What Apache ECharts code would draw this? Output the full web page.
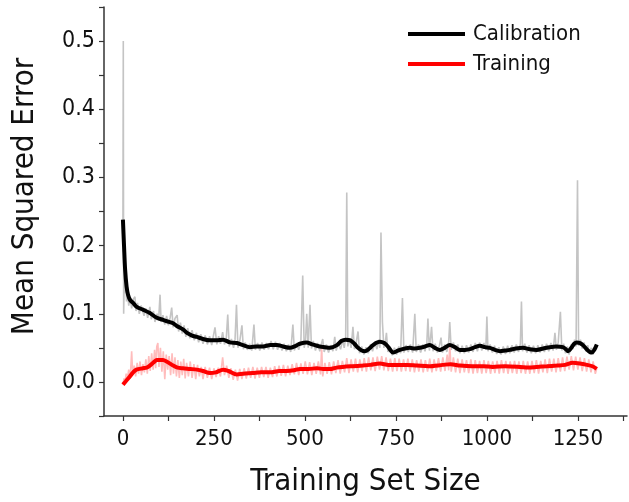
<!DOCTYPE html>
<html>
<head>
<meta charset="utf-8">
<script src="https://cdn.jsdelivr.net/npm/echarts@6/dist/echarts.min.js"></script>
<style>
  html, body { margin: 0; padding: 0; background: #fff; }
  #chart { width: 629px; height: 502px; }
</style>
</head>
<body>
<div id="chart"></div>
<script>
// axis ticks / labels
const xTicks = [0, 125, 250, 375, 500, 625, 750, 875, 1000, 1125, 1250, 1375];
const xLabels = [0, 250, 500, 750, 1000, 1250];
const yTicks = [-0.05, 0, 0.05, 0.1, 0.15, 0.2, 0.25, 0.3, 0.35, 0.4, 0.45, 0.5, 0.55];
const yLabels = [0, 0.1, 0.2, 0.3, 0.4, 0.5];

// smoothed calibration error (black)
const calSmooth = [[0,0.238],[3,0.2],[6,0.165],[10,0.14],[14,0.128],[20,0.12],[28,0.116],[38,0.11],[55,0.106],[74,0.101],[93,0.094],[110,0.091],[121,0.089],[138,0.086],[148,0.082],[165,0.077],[176,0.072],[190,0.068],[203,0.066],[220,0.063],[239,0.061],[258,0.061],[275,0.062],[294,0.058],[313,0.057],[330,0.054],[349,0.051],[367,0.052],[385,0.052],[405,0.054],[423,0.054],[440,0.052],[459,0.05],[475,0.053],[486,0.056],[505,0.058],[520,0.055],[533,0.053],[541,0.052],[555,0.051],[569,0.05],[588,0.054],[600,0.06],[612,0.062],[625,0.061],[636,0.056],[646,0.05],[656,0.046],[665,0.045],[675,0.048],[683,0.052],[695,0.057],[706,0.059],[718,0.057],[728,0.052],[736,0.046],[742,0.043],[752,0.045],[761,0.047],[775,0.049],[788,0.05],[802,0.049],[816,0.05],[830,0.052],[843,0.054],[857,0.05],[871,0.047],[884,0.05],[898,0.054],[912,0.051],[926,0.047],[940,0.047],[953,0.048],[967,0.051],[981,0.053],[995,0.051],[1008,0.05],[1022,0.047],[1036,0.045],[1050,0.046],[1063,0.047],[1080,0.049],[1099,0.05],[1118,0.048],[1137,0.047],[1155,0.049],[1173,0.051],[1190,0.052],[1209,0.051],[1217,0.048],[1223,0.045],[1232,0.05],[1240,0.056],[1247,0.058],[1256,0.057],[1264,0.054],[1276,0.047],[1288,0.043],[1295,0.047],[1302,0.055]];

// smoothed training error (red)
const trainSmooth = [[0,-0.004],[8,0.001],[19,0.008],[28,0.014],[37,0.018],[55,0.02],[65,0.021],[74,0.024],[85,0.029],[93,0.032],[110,0.032],[120,0.03],[138,0.024],[150,0.021],[165,0.02],[185,0.019],[203,0.018],[220,0.016],[239,0.013],[255,0.014],[275,0.018],[290,0.016],[313,0.011],[330,0.012],[357,0.013],[380,0.014],[404,0.014],[430,0.016],[450,0.016],[470,0.017],[486,0.019],[510,0.019],[533,0.02],[550,0.019],[569,0.019],[587,0.021],[604,0.022],[630,0.023],[659,0.024],[680,0.025],[706,0.027],[730,0.025],[753,0.025],[780,0.025],[808,0.024],[840,0.023],[879,0.025],[900,0.026],[926,0.024],[960,0.023],[990,0.023],[1016,0.022],[1050,0.023],[1091,0.022],[1115,0.021],[1137,0.022],[1165,0.023],[1192,0.024],[1215,0.025],[1236,0.028],[1255,0.027],[1275,0.025],[1290,0.023],[1302,0.019]];

// raw calibration error (grey)
const calRaw = [[0,0.235],[1,0.5],[2,0.1],[4,0.16],[6,0.13],[8,0.145],[10,0.118],[13,0.13],[16,0.112],[20,0.124],[24,0.108],[28,0.121],[33,0.125],[36,0.104],[40,0.116],[45,0.1],[50,0.112],[55,0.113],[58,0.097],[63,0.108],[68,0.094],[74,0.11],[78,0.092],[84,0.104],[88,0.088],[94,0.1],[98,0.09],[102,0.128],[105,0.088],[110,0.098],[115,0.084],[120,0.097],[125,0.083],[130,0.095],[134,0.109],[138,0.08],[143,0.093],[149,0.098],[153,0.074],[158,0.087],[163,0.071],[168,0.083],[173,0.066],[178,0.079],[184,0.064],[190,0.076],[196,0.061],[202,0.072],[208,0.058],[214,0.07],[220,0.056],[226,0.068],[232,0.055],[238,0.067],[244,0.054],[248,0.066],[253,0.08],[258,0.055],[263,0.067],[268,0.056],[274,0.073],[279,0.055],[284,0.064],[288,0.099],[292,0.052],[298,0.063],[304,0.05],[308,0.062],[312,0.113],[316,0.05],[321,0.06],[327,0.083],[331,0.048],[336,0.058],[342,0.047],[348,0.056],[354,0.046],[360,0.084],[364,0.047],[370,0.057],[376,0.046],[382,0.058],[388,0.047],[394,0.057],[400,0.048],[407,0.06],[413,0.048],[419,0.059],[425,0.047],[431,0.057],[437,0.046],[443,0.056],[449,0.045],[455,0.055],[461,0.044],[467,0.084],[471,0.046],[477,0.057],[483,0.047],[489,0.06],[494,0.156],[498,0.05],[502,0.063],[505,0.1],[509,0.05],[514,0.113],[518,0.049],[523,0.06],[529,0.046],[535,0.057],[541,0.045],[545,0.055],[549,0.063],[553,0.044],[559,0.055],[565,0.043],[571,0.054],[577,0.045],[582,0.066],[586,0.046],[592,0.057],[598,0.048],[604,0.062],[608,0.05],[612,0.065],[615,0.278],[618,0.052],[622,0.064],[627,0.05],[632,0.081],[636,0.048],[641,0.058],[646,0.074],[650,0.042],[656,0.052],[662,0.04],[668,0.051],[674,0.042],[680,0.055],[686,0.045],[692,0.058],[698,0.048],[703,0.062],[706,0.05],[709,0.219],[713,0.088],[717,0.05],[721,0.058],[724,0.072],[728,0.044],[734,0.052],[740,0.039],[746,0.05],[752,0.04],[758,0.052],[763,0.042],[768,0.123],[772,0.043],[778,0.054],[784,0.044],[790,0.055],[796,0.043],[802,0.1],[806,0.044],[812,0.055],[818,0.043],[824,0.055],[830,0.045],[835,0.057],[838,0.093],[842,0.046],[848,0.081],[852,0.045],[858,0.056],[864,0.043],[870,0.054],[874,0.065],[878,0.043],[884,0.055],[890,0.044],[895,0.058],[898,0.088],[902,0.047],[908,0.058],[914,0.045],[920,0.055],[926,0.042],[932,0.053],[938,0.042],[944,0.054],[950,0.043],[956,0.055],[962,0.044],[968,0.057],[974,0.045],[980,0.058],[986,0.046],[992,0.057],[997,0.047],[1000,0.096],[1003,0.045],[1009,0.055],[1015,0.043],[1021,0.053],[1027,0.041],[1033,0.051],[1039,0.04],[1045,0.052],[1051,0.041],[1057,0.053],[1063,0.042],[1069,0.054],[1075,0.043],[1081,0.055],[1087,0.044],[1092,0.056],[1095,0.118],[1098,0.045],[1104,0.056],[1110,0.043],[1116,0.054],[1122,0.042],[1128,0.053],[1134,0.042],[1140,0.054],[1146,0.043],[1152,0.055],[1158,0.044],[1164,0.056],[1170,0.045],[1176,0.057],[1182,0.046],[1187,0.072],[1191,0.047],[1196,0.058],[1202,0.103],[1206,0.046],[1211,0.056],[1216,0.042],[1221,0.052],[1226,0.04],[1231,0.055],[1236,0.048],[1241,0.062],[1245,0.052],[1249,0.296],[1252,0.053],[1257,0.062],[1262,0.049],[1267,0.058],[1272,0.045],[1277,0.054],[1282,0.041],[1287,0.05],[1292,0.04],[1297,0.052],[1302,0.05]];

// raw training error (pink)
const trainRaw = [[0,-0.004],[3,0.005],[6,0.002],[9,0.012],[12,0.004],[16,0.018],[20,0.005],[24,0.045],[27,0.01],[31,0.024],[35,0.008],[39,0.028],[43,0.012],[47,0.03],[51,0.01],[55,0.026],[59,0.014],[63,0.033],[67,0.012],[71,0.038],[75,0.016],[79,0.042],[83,0.018],[87,0.047],[90,0.02],[93,0.052],[96,0.057],[99,0.022],[103,0.05],[107,0.015],[111,0.045],[115,0.004],[119,0.04],[123,0.018],[127,0.038],[131,0.01],[135,0.042],[139,0.012],[143,0.036],[147,0.008],[151,0.032],[155,0.006],[159,0.03],[163,0.01],[167,0.034],[171,0.005],[175,0.028],[180,0.008],[185,0.03],[190,0.006],[195,0.026],[200,0.004],[205,0.025],[210,0.008],[215,0.022],[220,0.004],[226,0.022],[232,0.006],[238,0.021],[244,0.004],[250,0.02],[256,0.007],[262,0.021],[268,0.008],[274,0.036],[279,0.01],[285,0.024],[291,0.006],[297,0.02],[303,0.003],[309,0.018],[315,0.002],[321,0.019],[327,0.004],[333,0.02],[339,0.005],[345,0.021],[351,0.006],[357,0.022],[363,0.005],[369,0.021],[375,0.006],[381,0.022],[387,0.007],[393,0.022],[399,0.006],[405,0.021],[411,0.007],[417,0.023],[423,0.008],[429,0.024],[435,0.009],[441,0.025],[447,0.008],[453,0.024],[459,0.01],[465,0.026],[471,0.011],[477,0.028],[483,0.01],[489,0.027],[495,0.012],[501,0.03],[507,0.011],[513,0.029],[519,0.01],[525,0.028],[531,0.012],[537,0.03],[543,0.011],[546,0.052],[549,0.008],[555,0.028],[561,0.012],[567,0.029],[573,0.011],[579,0.03],[585,0.013],[591,0.032],[597,0.012],[603,0.031],[609,0.014],[615,0.035],[621,0.013],[627,0.033],[633,0.015],[639,0.034],[645,0.014],[651,0.033],[657,0.016],[663,0.035],[669,0.015],[675,0.036],[681,0.017],[687,0.036],[693,0.016],[699,0.037],[705,0.018],[711,0.038],[717,0.017],[723,0.036],[729,0.016],[735,0.034],[741,0.015],[747,0.035],[753,0.016],[759,0.034],[765,0.015],[771,0.033],[777,0.016],[783,0.034],[789,0.015],[795,0.033],[801,0.014],[807,0.032],[813,0.015],[819,0.033],[825,0.014],[831,0.032],[837,0.015],[843,0.034],[849,0.014],[855,0.033],[861,0.016],[867,0.035],[873,0.015],[879,0.036],[885,0.016],[891,0.04],[895,0.017],[898,0.055],[902,0.015],[908,0.036],[914,0.014],[920,0.034],[926,0.013],[932,0.033],[938,0.014],[944,0.032],[950,0.013],[956,0.033],[962,0.012],[968,0.032],[974,0.013],[980,0.031],[986,0.012],[992,0.032],[998,0.013],[1004,0.031],[1010,0.012],[1016,0.03],[1022,0.013],[1028,0.031],[1034,0.012],[1040,0.032],[1046,0.013],[1052,0.031],[1058,0.012],[1064,0.03],[1070,0.013],[1076,0.031],[1082,0.012],[1088,0.03],[1094,0.013],[1100,0.031],[1106,0.012],[1112,0.03],[1118,0.012],[1124,0.031],[1130,0.013],[1136,0.032],[1142,0.012],[1148,0.031],[1154,0.014],[1160,0.033],[1166,0.013],[1172,0.034],[1178,0.015],[1184,0.034],[1190,0.014],[1196,0.035],[1202,0.015],[1208,0.036],[1214,0.016],[1220,0.037],[1226,0.018],[1232,0.038],[1238,0.017],[1244,0.037],[1250,0.018],[1256,0.036],[1262,0.016],[1268,0.035],[1274,0.015],[1280,0.033],[1286,0.014],[1292,0.03],[1298,0.012],[1302,0.02]];

const FONT = "'DejaVu Sans Condensed', 'DejaVu Sans', sans-serif";
const AXIS_COLOR = "#333";

const chart = echarts.init(document.getElementById("chart"));

const option = {
  animation: false,
  backgroundColor: "#fff",
  textStyle: { fontFamily: FONT },
  grid: { left: 104, right: 2, top: 7, bottom: 86, containLabel: false },
  legend: {
    data: ["Calibration", "Training"],
    orient: "vertical",
    left: 408,
    top: 23,
    padding: 0,
    itemGap: 8,
    itemWidth: 57,
    itemHeight: 4,
    icon: "rect",
    textStyle: { fontFamily: FONT, fontSize: 22, color: "#111", padding: [0, 0, 0, 3] }
  },
  xAxis: {
    type: "value",
    min: -52,
    max: 1385,
    name: "Training Set Size",
    nameLocation: "middle",
    nameGap: 50,
    nameTextStyle: { fontFamily: FONT, fontSize: 31, color: "#111" },
    splitLine: { show: false },
    axisLine: { show: true, onZero: false, lineStyle: { color: AXIS_COLOR, width: 1.5 } },
    axisTick: { show: true, length: 5, customValues: xTicks, lineStyle: { color: AXIS_COLOR, width: 1.2 } },
    axisLabel: {
      customValues: xLabels,
      margin: 12,
      fontFamily: FONT,
      fontSize: 22,
      color: "#111",
      formatter: v => String(v)
    }
  },
  yAxis: {
    type: "value",
    min: -0.05,
    max: 0.55,
    name: "Mean Squared Error",
    nameLocation: "middle",
    nameGap: 64,
    nameTextStyle: { fontFamily: FONT, fontSize: 31, color: "#111", padding: [0, 0, 0, 30] },
    splitLine: { show: false },
    axisLine: { show: true, onZero: false, lineStyle: { color: AXIS_COLOR, width: 1.5 } },
    axisTick: { show: true, length: 5, customValues: yTicks, lineStyle: { color: AXIS_COLOR, width: 1.2 } },
    axisLabel: {
      customValues: yLabels,
      margin: 9,
      fontFamily: FONT,
      fontSize: 23,
      color: "#111",
      formatter: v => v.toFixed(1)
    }
  },
  series: [
    {
      name: "Calibration raw",
      type: "line",
      data: calRaw,
      showSymbol: false,
      lineStyle: { color: "#c4c4c4", width: 1.6 },
      itemStyle: { color: "#c4c4c4" },
      z: 1
    },
    {
      name: "Training raw",
      type: "line",
      data: trainRaw,
      showSymbol: false,
      lineStyle: { color: "#ffbcbc", width: 1.6 },
      itemStyle: { color: "#ffbcbc" },
      z: 2
    },
    {
      name: "Calibration",
      type: "line",
      data: calSmooth,
      showSymbol: false,
      smooth: 0.3,
      lineStyle: { color: "#000", width: 4 },
      itemStyle: { color: "#000" },
      z: 3
    },
    {
      name: "Training",
      type: "line",
      data: trainSmooth,
      showSymbol: false,
      smooth: 0.3,
      lineStyle: { color: "#ff0000", width: 4 },
      itemStyle: { color: "#ff0000" },
      z: 4
    }
  ]
};

chart.setOption(option);
window.addEventListener("resize", () => chart.resize(), false);
</script>
</body>
</html>
